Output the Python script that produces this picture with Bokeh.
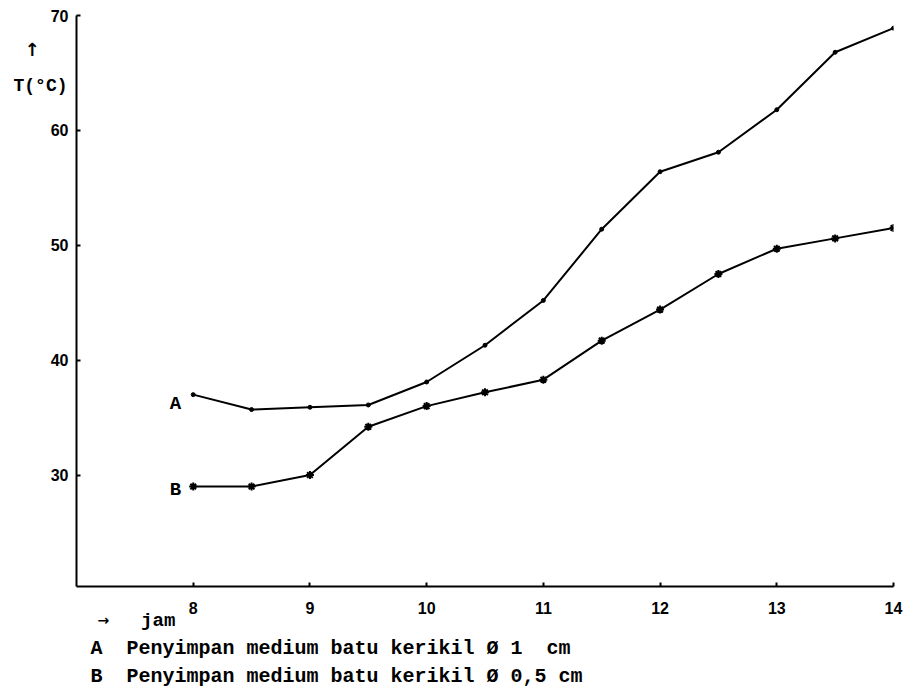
from bokeh.plotting import figure
from bokeh.models import FixedTicker, Label, Range1d, Title, LinearAxis
from bokeh.embed import file_html
from bokeh.resources import INLINE

NB = "\u00a0"

# Data
jam = [8, 8.5, 9, 9.5, 10, 10.5, 11, 11.5, 12, 12.5, 13, 13.5, 14]
suhu_A = [37.0, 35.7, 35.9, 36.1, 38.1, 41.3, 45.2, 51.4, 56.4, 58.1, 61.8, 66.8, 68.9]
suhu_B = [29.0, 29.0, 30.0, 34.2, 36.0, 37.2, 38.3, 41.7, 44.4, 47.5, 49.7, 50.6, 51.5]
x_ticks = [8, 9, 10, 11, 12, 13, 14]
y_ticks = [30, 40, 50, 60, 70]
x_title = "jam"
x_arrow = "→"
y_title = "T(°C)"
y_arrow = "↑"
legend_A = "A" + NB * 2 + "Penyimpan medium batu kerikil Ø 1" + NB * 2 + "cm"
legend_B = "B" + NB * 2 + "Penyimpan medium batu kerikil Ø 0,5 cm"

MONO = "Liberation Mono"
SANS = "Liberation Sans"
ARROWS = "DejaVu Sans"

# positions of the axis captions (as tick labels of unmarked caption axes)
X_TITLE_AT = 7.70
X_ARROW_AT = 7.23
Y_TITLE_AT = 63.9
Y_ARROW_AT = 67.0

p = figure(width=909, height=688, output_backend="svg", toolbar_location=None,
           x_range=Range1d(7, 14), y_range=Range1d(20.3, 70),
           min_border_left=76, min_border_right=16, min_border_top=15,
           min_border_bottom=100)
p.outline_line_color = None
p.grid.visible = False
p.background_fill_color = "white"
p.border_fill_color = "white"

for ax in (p.xaxis, p.yaxis):
    ax.axis_line_color = "black"
    ax.axis_line_width = 2
    ax.major_tick_line_color = "black"
    ax.major_tick_line_width = 2
    ax.major_tick_in = 4
    ax.major_tick_out = 0
    ax.minor_tick_line_color = None
    ax.major_label_text_font = SANS
    ax.major_label_text_font_style = "bold"
    ax.major_label_text_font_size = "16px"
    ax.major_label_text_color = "black"

p.xaxis.ticker = FixedTicker(ticks=x_ticks)
p.yaxis.ticker = FixedTicker(ticks=y_ticks)
p.xaxis.major_label_standoff = 15
p.yaxis.major_label_standoff = 8

def caption_axis(ticks, overrides, standoff, size, font):
    ax = LinearAxis(ticker=FixedTicker(ticks=ticks), major_label_overrides=overrides,
                    axis_line_color=None, major_tick_line_color=None,
                    minor_tick_line_color=None, major_label_standoff=standoff,
                    major_label_text_font=font, major_label_text_font_style="bold",
                    major_label_text_font_size=size, major_label_text_color="black")
    return ax

p.add_layout(caption_axis([Y_TITLE_AT], {Y_TITLE_AT: y_title}, -26, "18px", MONO), "left")
p.add_layout(caption_axis([Y_ARROW_AT], {Y_ARROW_AT: y_arrow}, -35, "18px", ARROWS), "left")
p.add_layout(caption_axis([X_TITLE_AT], {X_TITLE_AT: x_title}, -13, "19px", MONO), "below")
p.add_layout(caption_axis([X_ARROW_AT], {X_ARROW_AT: x_arrow}, -29, "14px", ARROWS), "below")

p.line(jam, suhu_A, line_color="black", line_width=2)
p.scatter(jam, suhu_A, marker="circle", size=4, color="black")
p.line(jam, suhu_B, line_color="black", line_width=2)
p.scatter(jam, suhu_B, marker="asterisk", size=8, line_color="black", line_width=2)

def lab(txt, x, y, size):
    p.add_layout(Label(x=x, y=y, x_units="screen", y_units="screen", text=txt,
                       text_font=MONO, text_font_style="bold",
                       text_font_size=size, text_color="black",
                       text_align="center", text_baseline="middle"))

# frame origin: left=76, bottom=588
lab("A", 99, 183, "19px")
lab("B", 99, 97, "19px")

p.add_layout(Title(text=legend_A + "\n" + legend_B, align="left", offset=14, standoff=1,
                   text_font=MONO, text_font_style="bold", text_line_height=1.22,
                   text_font_size="20px", text_color="black"), "below")

open("out.html", "w").write(file_html(p, INLINE))
